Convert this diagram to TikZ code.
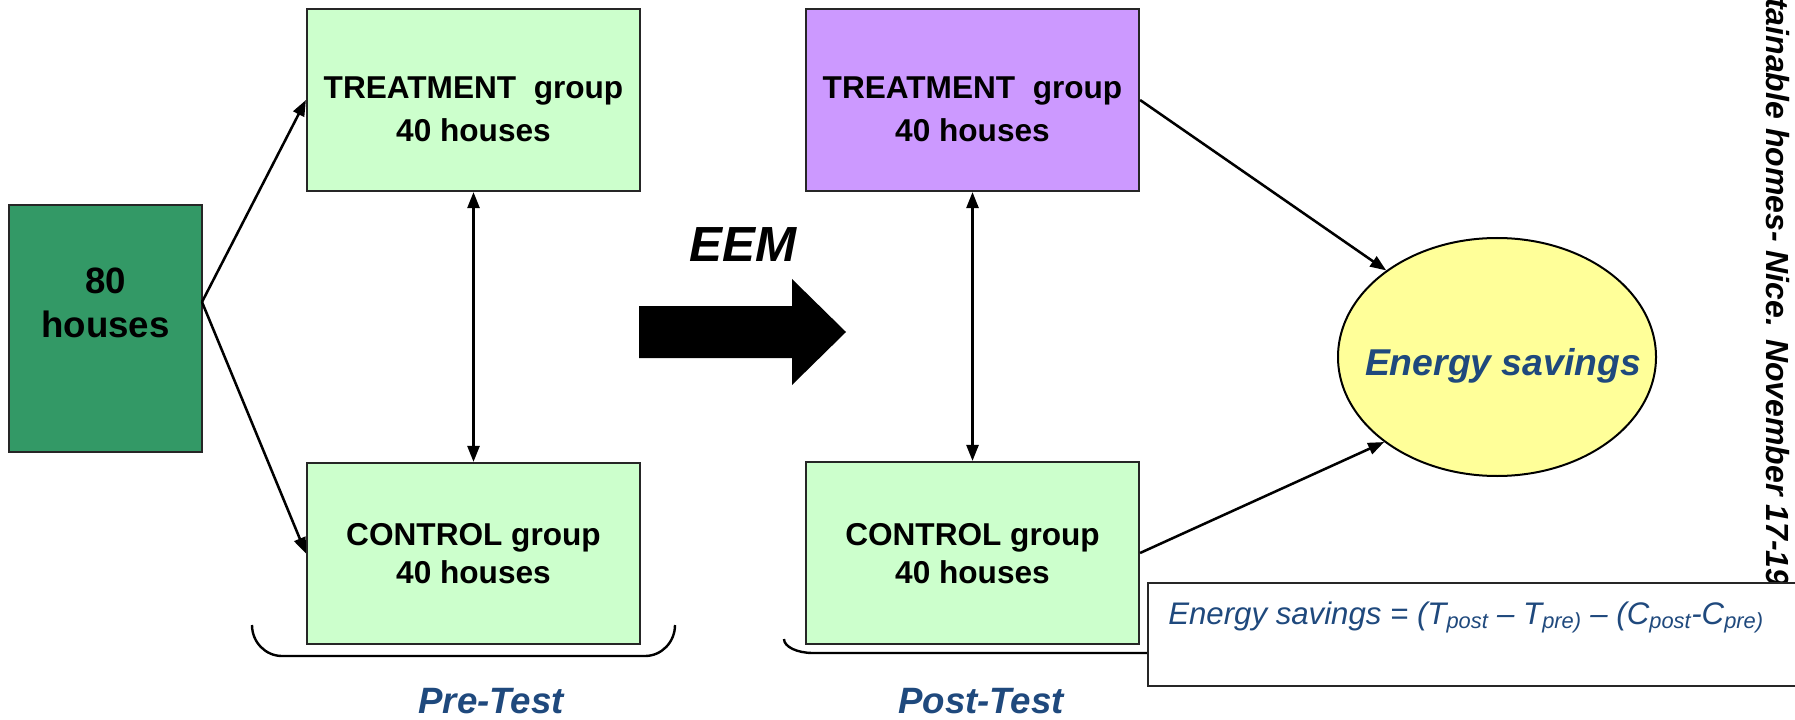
\documentclass[tikz,border=0pt]{standalone}
\usepackage{fontspec}
\setmainfont{Liberation Sans}
\usetikzlibrary{arrows.meta,shapes.geometric}
\definecolor{dkgreen}{RGB}{51,153,102}
\definecolor{ltgreen}{RGB}{204,255,204}
\definecolor{lilac}{RGB}{204,153,255}
\definecolor{ltyellow}{RGB}{255,255,153}
\definecolor{txtblue}{RGB}{31,73,125}
\newlength\px
\setlength\px{0.75pt}
\begin{document}
\begin{tikzpicture}[x=0.75pt,y=-0.75pt,
  box/.style={draw=black!85, line width=1.6pt, inner sep=0pt, rectangle},
  grpbox/.style={box, fill=ltgreen, minimum width=333\px, minimum height=182\px},
  boxtxt/.style={font=\fontsize{23.7pt}{28pt}\selectfont\bfseries, anchor=base, inner sep=0pt},
  conn/.style={line width=1.9pt, -{Triangle[length=12pt,width=9pt]}},
  dconn/.style={line width=1.9pt, {Triangle[length=12pt,width=9pt]}-{Triangle[length=12pt,width=9pt]}},
  phase/.style={font=\fontsize{27.5pt}{33pt}\selectfont\bfseries\itshape, text=txtblue, anchor=base, inner sep=0pt},
  bracket/.style={line width=1.8pt}
]
\useasboundingbox (0,0) rectangle (1795,720);

% vertical side text (partly covered by the formula box)
\node[rotate=-90, anchor=base west, inner sep=0pt,
      font=\fontsize{24pt}{28pt}\selectfont\bfseries\itshape] (side) at (1766,-2)
      {tainable homes- Nice. November 17-19};

% main boxes
\node[box, fill=dkgreen, minimum width=193\px, minimum height=247\px] (b80) at (105.5,328.5) {};
\node[grpbox] (trpre) at (473.5,100) {};
\node[grpbox, minimum height=181\px] (ctpre) at (473.5,553.5) {};
\node[grpbox, fill=lilac] (trpost) at (972.5,100) {};
\node[grpbox] (ctpost) at (972.5,553) {};
\node[ellipse, draw=black, line width=1.5pt, fill=ltyellow, minimum width=318\px, minimum height=238\px, inner sep=0pt] (es) at (1497,357) {};

% box texts
\node[boxtxt, font=\fontsize{27.5pt}{33pt}\selectfont\bfseries] (t80a) at (105.5,293) {80};
\node[boxtxt, font=\fontsize{27.5pt}{33pt}\selectfont\bfseries] (t80b) at (105.5,337) {houses};
\node[boxtxt] (t1a) at (473.5,99) {TREATMENT\ \ group};
\node[boxtxt] (t1b) at (473.5,142) {40 houses};
\node[boxtxt] (t2a) at (473.5,545) {CONTROL group};
\node[boxtxt] (t2b) at (473.5,583) {40 houses};
\node[boxtxt] (t3a) at (972.5,99) {TREATMENT\ \ group};
\node[boxtxt] (t3b) at (972.5,142) {40 houses};
\node[boxtxt] (t4a) at (972.5,545) {CONTROL group};
\node[boxtxt] (t4b) at (972.5,583) {40 houses};
\node[phase, font=\fontsize{28pt}{33pt}\selectfont\bfseries\itshape] (est) at (1503,375) {Energy savings};

% EEM block arrow
\node[anchor=base, inner sep=0pt, font=\fontsize{37pt}{44pt}\selectfont\bfseries\itshape] (eem) at (743,262) {EEM};
\fill[black] (639,306) -- (792,306) -- (792,279) -- (846,332) -- (792,385) -- (792,358) -- (639,358) -- cycle;

% connectors
\coordinate (src) at (202,302);
\draw[conn] (src) -- (trpre.west);
\draw[conn] (src) -- (ctpre.west);
\draw[dconn] (trpre.south) -- (ctpre.north);
\draw[dconn] (trpost.south) -- (ctpost.north);
\draw[conn] (trpost.east) -- (es.142);
\draw[conn] (ctpost.east) -- (es.217);

% brackets
\draw[bracket] (252,625) arc[start angle=180, end angle=90, x radius=30, y radius=31] -- (645,656)
  arc[start angle=90, end angle=0, x radius=30, y radius=31];
\draw[bracket] (784,639) arc[start angle=180, end angle=90, x radius=29, y radius=14] -- (1300,653);

\node[phase] (pre) at (491,713) {Pre-Test};
\node[phase] (post) at (981,713) {Post-Test};

% formula box
\node[box, fill=white, minimum width=660\px, minimum height=103\px, anchor=north west] (fbox) at (1147,582) {};
\node[anchor=base west, inner sep=0pt, text=txtblue, font=\fontsize{23.4pt}{27pt}\selectfont\itshape] (formula) at (1168,624)
  {Energy savings = (T\textsubscript{post} -- T\textsubscript{pre)} -- (C\textsubscript{post}-C\textsubscript{pre)}};
\end{tikzpicture}
\end{document}
